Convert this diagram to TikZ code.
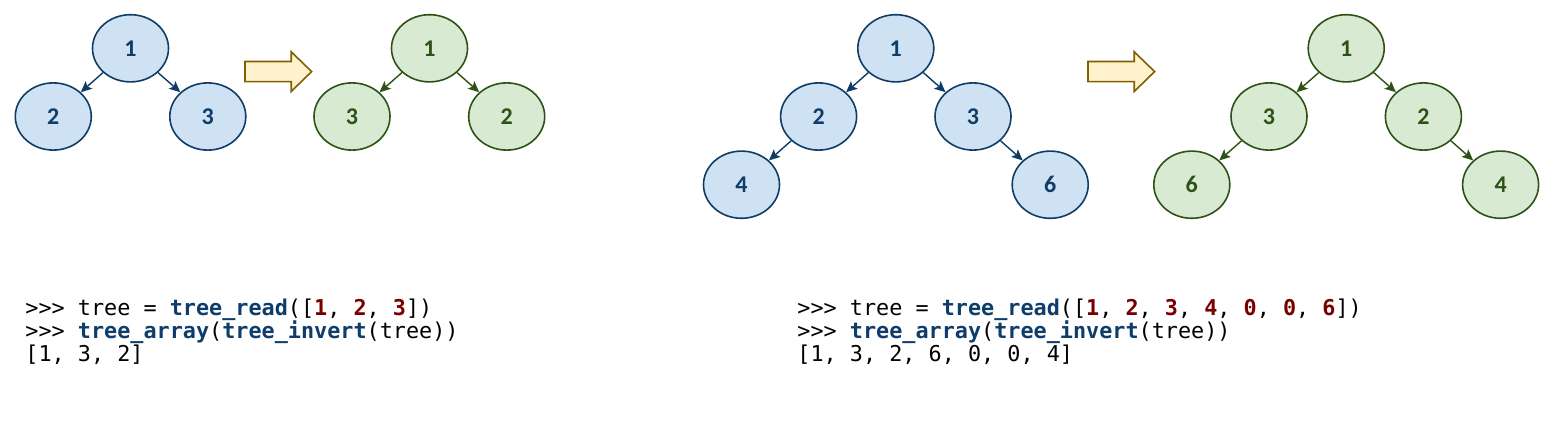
\documentclass[tikz,border=0pt]{standalone}
\usepackage{fontspec}
\setmainfont{Carlito}
\setmonofont{DejaVu Sans Mono}
\usetikzlibrary{arrows.meta,shapes.geometric}

\definecolor{bluefill}{HTML}{CFE2F3}
\definecolor{bluedraw}{HTML}{0F3D66}
\definecolor{greenfill}{HTML}{D9EAD3}
\definecolor{greendraw}{HTML}{2D5216}
\definecolor{yellowfill}{HTML}{FFF2CC}
\definecolor{yellowdraw}{HTML}{806000}
\definecolor{fncolor}{HTML}{0E3D6B}
\definecolor{numcolor}{HTML}{7A0000}

\newcommand{\fn}[1]{\textcolor{fncolor}{\bfseries #1}}
\newcommand{\num}[1]{\textcolor{numcolor}{\bfseries #1}}

\begin{document}
\begin{tikzpicture}[x=0.5pt, y=-0.5pt, >={Stealth[length=5.5pt,width=5pt,inset=1.2pt]},
    treenode/.style={ ellipse, draw, line width=0.8pt, inner sep=0pt,
      minimum width=38pt, minimum height=33.6pt,
      font=\fontsize{12}{14}\selectfont\bfseries },
    bluenode/.style={ treenode, fill=bluefill, draw=bluedraw, text=bluedraw },
    greennode/.style={ treenode, fill=greenfill, draw=greendraw, text=greendraw },
    blueedge/.style={ ->, draw=bluedraw, fill=bluedraw, line width=0.7pt },
    greenedge/.style={ ->, draw=greendraw, fill=greendraw, line width=0.7pt },
    blockarrow/.style={ fill=yellowfill, draw=yellowdraw, line width=0.8pt },
    codeline/.style={ anchor=base west, inner sep=0pt,
      font=\ttfamily\fontsize{10.9}{12}\selectfont } ]
  \useasboundingbox (0,0) rectangle (1557,433);

  % small tree
  \foreach \n/\x/\y in {1/130.5/48.3,2/53.3/116.5,3/207.8/116.5}
  \node[bluenode] (la\n) at (\x,\y) {\n};
  \foreach \n/\x/\y in {1/429.5/48.3,3/352/116.5,2/506.7/116.5}
  \node[greennode] (lb\n) at (\x,\y) {\n};
  \foreach \p/\c in {1/2,1/3}
  \draw[blueedge] (la\p) -- (la\c);
  \foreach \p/\c in {1/3,1/2}
  \draw[greenedge] (lb\p) -- (lb\c);

  % big tree
  \foreach \n/\x/\y in {1/895.8/48.3,2/818.6/116.5,3/973/116.5,4/741.5/184.7,6/1050.2/184.7}
  \node[bluenode] (ra\n) at (\x,\y) {\n};
  \foreach \n/\x/\y in {1/1346.2/48.3,3/1269/116.5,2/1423.4/116.5,6/1191.8/184.7,4/1500.6/184.7}
  \node[greennode] (rb\n) at (\x,\y) {\n};
  \foreach \p/\c in {1/2,1/3,2/4,3/6}
  \draw[blueedge] (ra\p) -- (ra\c);
  \foreach \p/\c in {1/3,1/2,3/6,2/4}
  \draw[greenedge] (rb\p) -- (rb\c);

  % block arrows
  \foreach \dx in {0,843}
  \draw[blockarrow, xshift=\dx*0.5pt] (245,61.5) -- (291.2,61.5) -- (291.2,51.8)
    -- (311.6,71.6) -- (291.2,91.5) -- (291.2,81.6) -- (245,81.6) -- cycle;

  % code
  \node[codeline] (lc1) at (25,315) {>>> tree = \fn{tree\_read}([\num{1}, \num{2}, \num{3}])};
  \node[codeline] (lc2) at (25,338.3) {>>> \fn{tree\_array}(\fn{tree\_invert}(tree))};
  \node[codeline] (lc3) at (25,361.6) {[1, 3, 2]};
  \node[codeline] (rc1) at (797,315) {>>> tree = \fn{tree\_read}([\num{1}, \num{2}, \num{3}, \num{4}, \num{0}, \num{0}, \num{6}])};
  \node[codeline] (rc2) at (797,338.3) {>>> \fn{tree\_array}(\fn{tree\_invert}(tree))};
  \node[codeline] (rc3) at (797,361.6) {[1, 3, 2, 6, 0, 0, 4]};
\end{tikzpicture}
\end{document}
